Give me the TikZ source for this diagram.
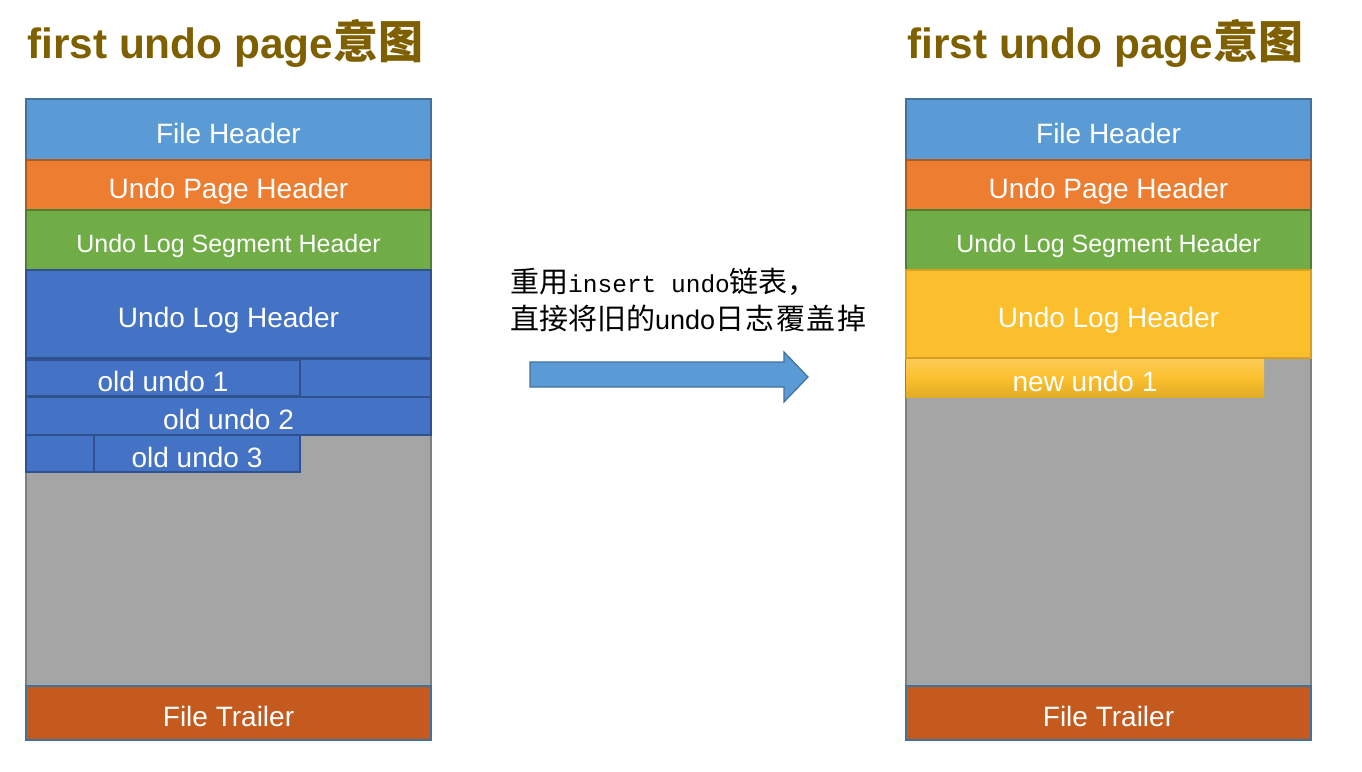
\documentclass[tikz,border=0pt]{standalone}
\usepackage{fontspec}
\setmainfont{Liberation Sans}
\newfontfamily\cjk{Noto Sans CJK SC}
\newfontfamily\monof{Liberation Mono}
\definecolor{fhblue}{HTML}{5B9BD5}
\definecolor{fhline}{HTML}{41719C}
\definecolor{uphor}{HTML}{ED7D31}
\definecolor{uphline}{HTML}{AE5A21}
\definecolor{segreen}{HTML}{70AD47}
\definecolor{segline}{HTML}{507E32}
\definecolor{ulhblue}{HTML}{4472C4}
\definecolor{ulhline}{HTML}{2F528F}
\definecolor{freegray}{HTML}{A5A5A5}
\definecolor{grayline}{HTML}{7F7F7F}
\definecolor{trailer}{HTML}{C55A1F}
\definecolor{gold}{HTML}{FBBF2D}
\definecolor{goldline}{HTML}{D9A020}
\definecolor{titlecol}{HTML}{7F6000}
\begin{document}
\begin{tikzpicture}[x=1pt,y=-1pt,
  row/.style={draw, line width=1.2pt, inner sep=0pt, text=white,
    font=\fontsize{28}{30}\selectfont, minimum width=405,
    text height=27pt, text depth=0pt},
  fh/.style={row, fill=fhblue, draw=fhline},
  uph/.style={row, fill=uphor, draw=uphline},
  seg/.style={row, fill=segreen, draw=segline, font=\fontsize{25}{26}\selectfont, text height=24pt},
  ulh/.style={row, fill=ulhblue, draw=ulhline},
  free/.style={row, fill=freegray, draw=grayline},
  trail/.style={row, fill=trailer, draw=fhline},
  gold ulh/.style={row, fill=gold, draw=goldline},
  titletext/.style={anchor=base west, inner sep=0pt, text=titlecol, font=\fontsize{42.4}{44}\selectfont\bfseries},
  bigarrow/.style={fill=fhblue, draw=fhline, line width=1.2pt, line join=miter},
  notetext/.style={anchor=base west, inner sep=0pt, font=\fontsize{29}{30}\selectfont}
]
\useasboundingbox (0,0) rectangle (1362,771);

% titles
\node[titletext] (t1) at (27,58) {first undo page{\cjk\fontsize{45}{46}\selectfont 意图}};
\node[titletext] (t2) at (907,58) {first undo page{\cjk\fontsize{45}{46}\selectfont 意图}};

% ---------- left page ----------
\node[free, minimum height=328] (lfree) at (228.5,522) {};
\node[fh, minimum height=61] (lfh) at (228.5,129.5) {File Header};
\node[uph, minimum height=50] (luph) at (228.5,185) {Undo Page Header};
\node[seg, minimum height=60] (lseg) at (228.5,240) {Undo Log Segment Header};
\node[ulh, minimum height=88] (lulh) at (228.5,314) {Undo Log Header};
% old undo 2 (wraps around old undo 1 and old undo 3)
\node[ulh, minimum height=38] (lold2back) at (228.5,378) {};
\node[ulh, minimum width=68, minimum height=37] (lold2tail) at (60,453.5) {};
\node[ulh, minimum height=38] (lold2) at (228.5,416) {old undo 2};
\node[ulh, minimum width=274, minimum height=36] (lold1) at (163,378) {old undo 1};
\node[ulh, minimum width=206, minimum height=37] (lold3) at (197,453.5) {old undo 3};
\node[trail, minimum height=54] (lft) at (228.5,713) {File Trailer};

% ---------- arrow and note ----------
\node[notetext] (note1) at (510,292)
  {{\cjk 重用}{\monof\fontsize{24.5}{30}\selectfont insert undo}{\cjk 链表，}};
\node[notetext] (note2) at (510,329)
  {{\cjk 直接将旧的}{\fontsize{27}{30}\selectfont undo}{\cjk 日\hspace{1.5pt}志\hspace{1.5pt}覆\hspace{1.5pt}盖\hspace{1.5pt}掉}};
\draw[bigarrow] (530,362) -- (784,362) -- (784,352) -- (808,377) -- (784,402) -- (784,387) -- (530,387) -- cycle;

% ---------- right page ----------
\node[free, minimum height=328] (rfree) at (1108.5,522) {};
\node[fh, minimum height=61] (rfh) at (1108.5,129.5) {File Header};
\node[uph, minimum height=50] (ruph) at (1108.5,185) {Undo Page Header};
\node[seg, minimum height=60] (rseg) at (1108.5,240) {Undo Log Segment Header};
\node[gold ulh, minimum height=88] (rulh) at (1108.5,314) {Undo Log Header};
\node[row, minimum width=358, minimum height=38, draw=none,
  top color=gold!80!white, bottom color=gold!90!black, middle color=gold] (rnew1) at (1085,378) {new undo 1};
\node[trail, minimum height=54] (rft) at (1108.5,713) {File Trailer};
\end{tikzpicture}
\end{document}
